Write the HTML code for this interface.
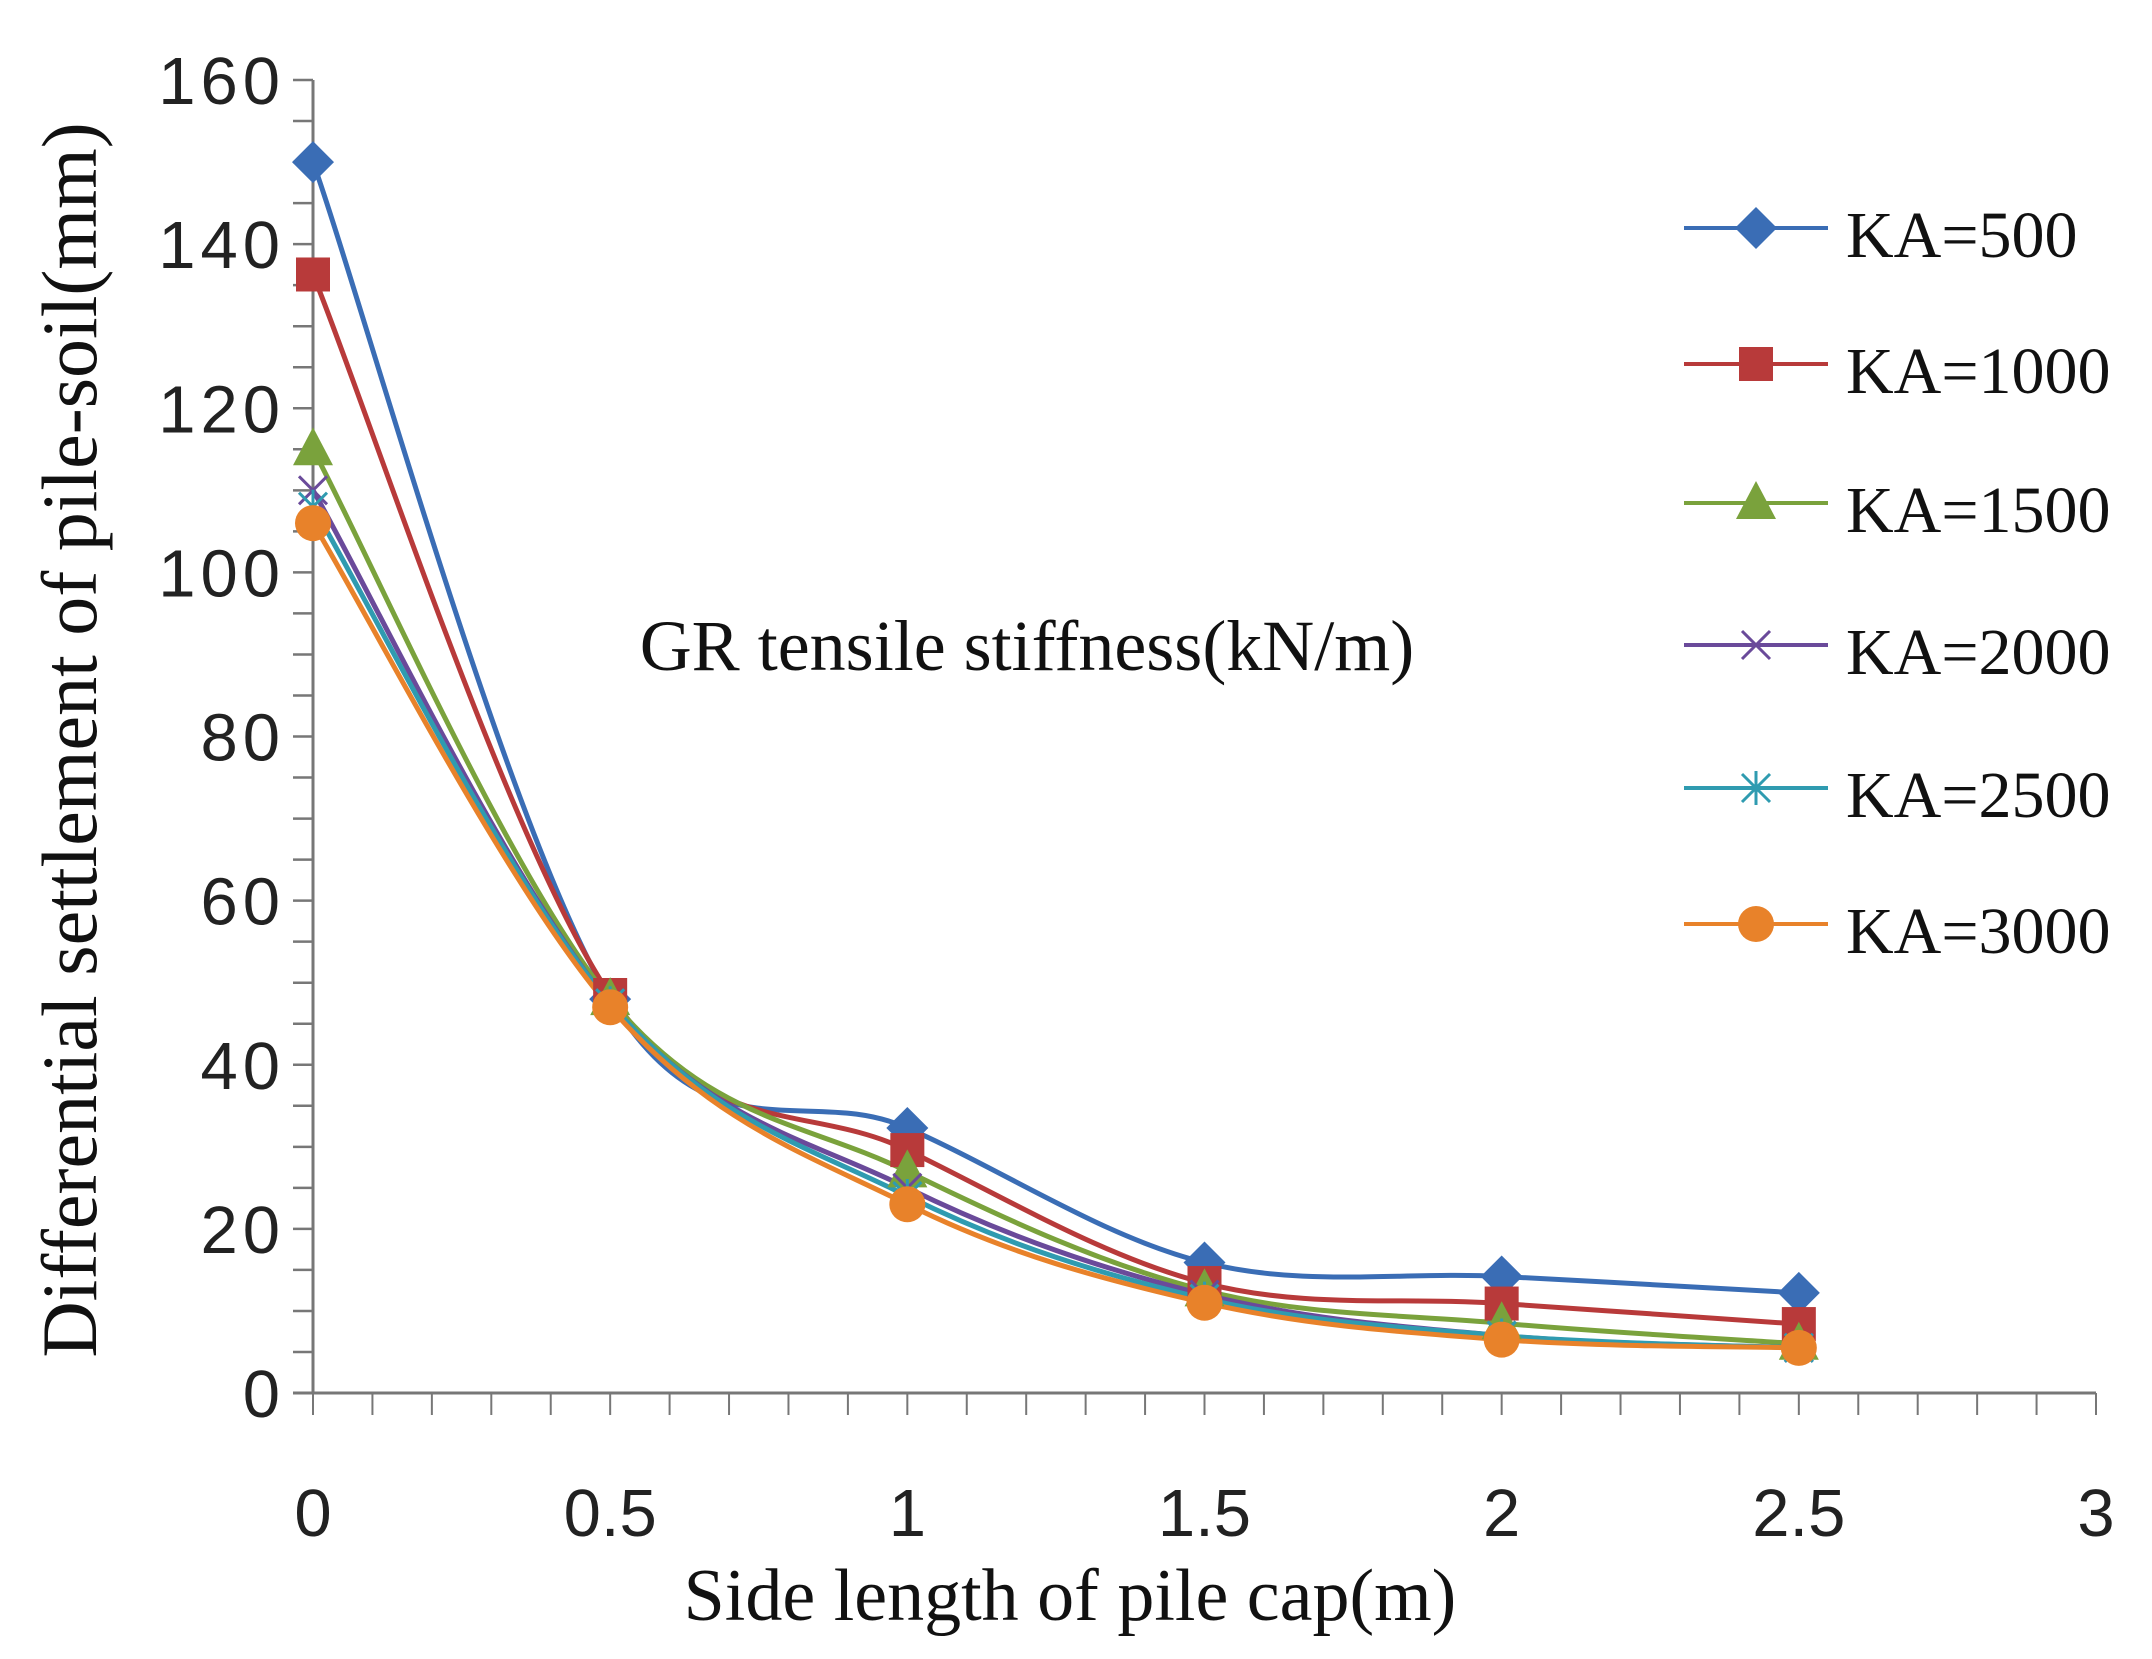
<!DOCTYPE html>
<html><head><meta charset="utf-8"><style>
html,body{margin:0;padding:0;background:#fff;}
svg{display:block;}
.s{font-family:"Liberation Sans",sans-serif;font-size:67px;fill:#222;}
.r{font-family:"Liberation Serif",serif;fill:#111;}
</style></head><body>
<svg id="c" width="2152" height="1659" viewBox="0 0 2152 1659" xmlns="http://www.w3.org/2000/svg">
<g id="ax" stroke="#777" stroke-width="3"></g>
<g id="lines" fill="none" stroke-width="5"></g>
<g id="marks"></g>
<g class="s" text-anchor="end" id="yl" letter-spacing="5"></g>
<g class="s" text-anchor="middle" id="xl"></g>
<text class="r" font-size="78" transform="translate(96,740) rotate(-90)" text-anchor="middle">Differential settlement of pile-soil(mm)</text>
<text class="r" font-size="74" x="1070" y="1620" text-anchor="middle">Side length of pile cap(m)</text>
<text class="r" font-size="72" x="1027" y="670" text-anchor="middle">GR tensile stiffness(kN/m)</text>
<g id="leg"></g>
</svg>
<script>
var NS="http://www.w3.org/2000/svg";
function el(p,t,a,txt){var e=document.createElementNS(NS,t);for(var k in a)e.setAttribute(k,a[k]);if(txt!=null)e.textContent=txt;document.getElementById(p).appendChild(e);return e;}
var X0=313,X3=2096,Y0=1393,Y160=80;
function px(x){return X0+(X3-X0)*x/3;}
function py(y){return Y0-(Y0-Y160)*y/160;}
el("ax","line",{x1:X0,y1:Y160,x2:X0,y2:Y0});
el("ax","line",{x1:X0-20,y1:Y0,x2:X3,y2:Y0});
for(var v=0;v<=160;v+=5){el("ax","line",{x1:X0-20,y1:py(v),x2:X0,y2:py(v),"stroke-width":2.5});}
for(var i=0;i<=30;i++){var xx=px(i/10);el("ax","line",{x1:xx,y1:Y0,x2:xx,y2:Y0+22,"stroke-width":2});}
for(var v=0;v<=160;v+=20){el("yl","text",{x:285,y:py(v)+24},String(v));}
["0","0.5","1","1.5","2","2.5","3"].forEach(function(t,i){el("xl","text",{x:px(i*0.5),y:1536},t);});
var xs=[0,0.5,1,1.5,2,2.5];
var S=[
{c:"#3a6db5",d:[150,48,32.3,15.9,14.2,12.2],m:"d"},
{c:"#b83a3a",d:[136.3,48.5,29.6,13.4,10.9,8.4],m:"s"},
{c:"#7aa23c",d:[115,48,27,12.5,8.5,6],m:"t"},
{c:"#6a4a9a",d:[110,47.5,25,12,7,5.5],m:"x"},
{c:"#2f9bb0",d:[108,47.5,24,11.5,7,5.5],m:"a"},
{c:"#e8822a",d:[106,47,23,11,6.5,5.5],m:"o"}];
function path(P){var d="M"+P[0][0]+","+P[0][1];for(var i=0;i<P.length-1;i++){var p0=P[Math.max(i-1,0)],p1=P[i],p2=P[i+1],p3=P[Math.min(i+2,P.length-1)];var t=0.17;
d+=" C"+(p1[0]+(p2[0]-p0[0])*t)+","+(p1[1]+(p2[1]-p0[1])*t)+" "+(p2[0]-(p3[0]-p1[0])*t)+","+(p2[1]-(p3[1]-p1[1])*t)+" "+p2[0]+","+p2[1];}return d;}
function mark(g,m,x,y,c){
 if(m=="d")el(g,"polygon",{points:(x)+","+(y-21)+" "+(x+21)+","+y+" "+x+","+(y+21)+" "+(x-21)+","+y,fill:c});
 else if(m=="s")el(g,"rect",{x:x-17,y:y-17,width:34,height:34,fill:c});
 else if(m=="t")el(g,"polygon",{points:x+","+(y-22)+" "+(x+20)+","+(y+16)+" "+(x-20)+","+(y+16),fill:c});
 else if(m=="x"){el(g,"path",{d:"M"+(x-14)+","+(y-14)+"L"+(x+14)+","+(y+14)+"M"+(x-14)+","+(y+14)+"L"+(x+14)+","+(y-14),stroke:c,"stroke-width":3});}
 else if(m=="a"){el(g,"path",{d:"M"+(x-14)+","+(y-14)+"L"+(x+14)+","+(y+14)+"M"+(x-14)+","+(y+14)+"L"+(x+14)+","+(y-14)+"M"+x+","+(y-17)+"L"+x+","+(y+17),stroke:c,"stroke-width":3});}
 else el(g,"circle",{cx:x,cy:y,r:18,fill:c});
}
S.forEach(function(s){var P=xs.map(function(x,i){return [px(x),py(s.d[i])];});el("lines","path",{d:path(P),stroke:s.c});});
S.forEach(function(s){xs.forEach(function(x,i){mark("marks",s.m,px(x),py(s.d[i]),s.c);});});
var LY=[228,364,503,645,788,924],labs=["KA=500","KA=1000","KA=1500","KA=2000","KA=2500","KA=3000"];
S.forEach(function(s,i){el("leg","line",{x1:1684,y1:LY[i],x2:1828,y2:LY[i],stroke:s.c,"stroke-width":4});mark("leg",s.m,1756,LY[i],s.c);
el("leg","text",{x:1846,y:LY[i]+29,"font-size":66,"class":"r"},labs[i]);});
</script>
</body></html>
